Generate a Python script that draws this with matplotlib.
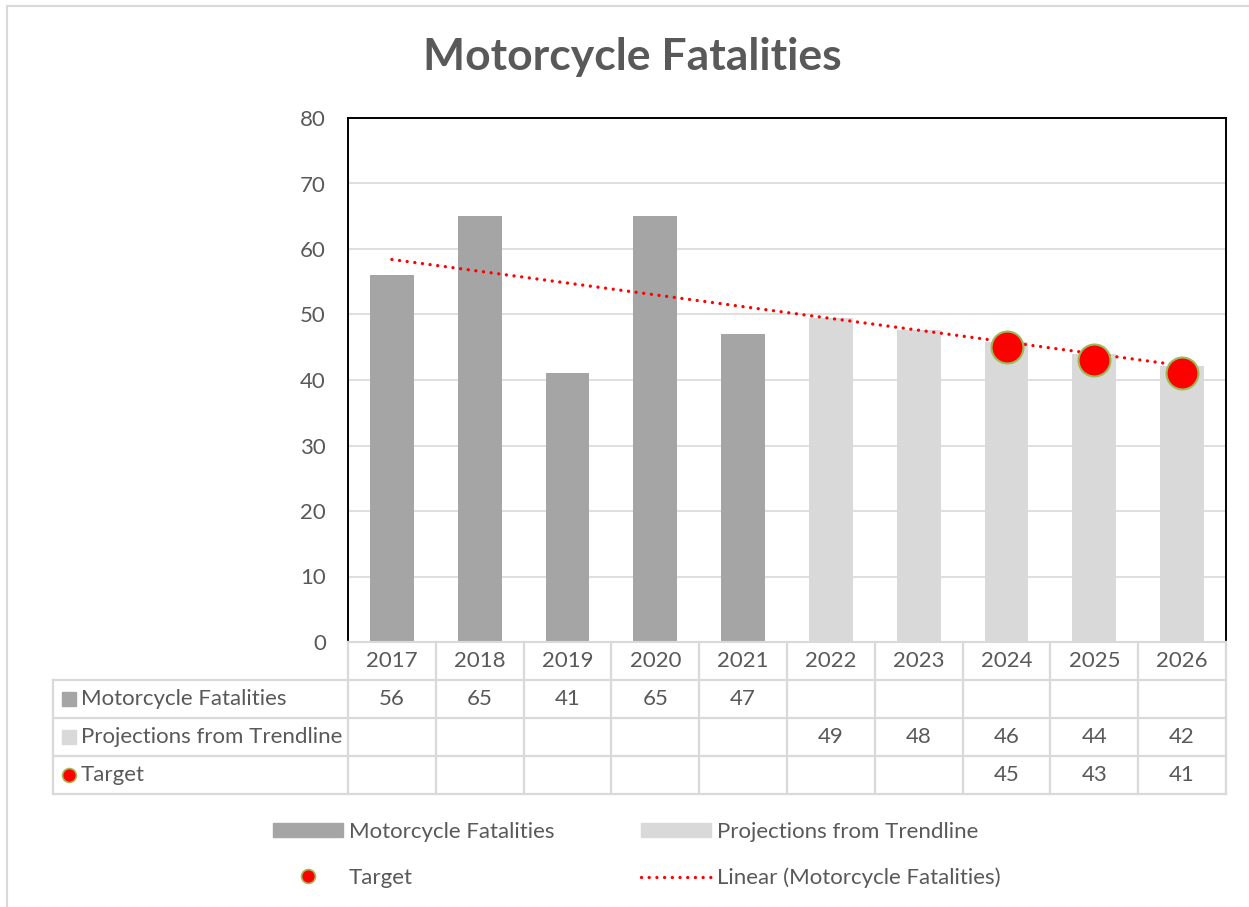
import numpy as np
import matplotlib.pyplot as plt
from matplotlib.lines import Line2D
from matplotlib.patches import Patch
from matplotlib.transforms import blended_transform_factory

plt.rcParams['font.family'] = ['Lato', 'DejaVu Sans']

# data
years = ["2017", "2018", "2019", "2020", "2021", "2022", "2023", "2024", "2025", "2026"]
fatalities = [56, 65, 41, 65, 47, None, None, None, None, None]
projections = [None, None, None, None, None, 49.4, 47.6, 45.8, 44.0, 42.2]
targets = [None, None, None, None, None, None, None, 45, 43, 41]

dark_grey = "#A5A5A5"
light_grey = "#D9D9D9"
text_col = "#595959"
grid_col = "#D9D9D9"

W, H = 1249, 907
fig = plt.figure(figsize=(W / 100, H / 100), dpi=100)


def fx(px):
    return px / W


def fy(py):
    return 1 - py / H


ax = fig.add_axes([fx(348), fy(642), fx(1226) - fx(348), fy(118) - fy(642)])

x = np.arange(len(years))
fx_idx = [i for i, v in enumerate(fatalities) if v is not None]
pr_idx = [i for i, v in enumerate(projections) if v is not None]
tg_idx = [i for i, v in enumerate(targets) if v is not None]

ax.bar([x[i] for i in fx_idx], [fatalities[i] for i in fx_idx], width=0.5,
       color=dark_grey, zorder=2)
ax.bar([x[i] for i in pr_idx], [projections[i] for i in pr_idx], width=0.5,
       color=light_grey, zorder=2)

# linear trendline from the actual values, extended forward
coef = np.polyfit([x[i] for i in fx_idx], [fatalities[i] for i in fx_idx], 1)
ax.plot(x, np.polyval(coef, x), color="red", lw=2.4,
        linestyle=(0, (0.01, 2.3)), dash_capstyle="round", zorder=3)

ax.plot([x[i] for i in tg_idx], [targets[i] for i in tg_idx], "o",
        color="red", markersize=23, markeredgecolor="#9BBB59",
        markeredgewidth=1.5, zorder=4)

ax.set_xlim(-0.5, len(years) - 0.5)
ax.set_ylim(0, 80)
ax.set_yticks(np.arange(0, 81, 10))
ax.set_xticks([])
ax.tick_params(axis="y", length=0, pad=16, labelsize=16, labelcolor=text_col)
ax.yaxis.grid(True, color=grid_col, lw=1.2, zorder=0)
ax.set_axisbelow(True)
for s in ["left", "top", "right"]:
    ax.spines[s].set_color("black")
    ax.spines[s].set_linewidth(1.4)
ax.spines["bottom"].set_color(light_grey)
ax.spines["bottom"].set_linewidth(1.5)

# data table beneath the axes
tr = blended_transform_factory(ax.transData, fig.transFigure)
rows_y = [642, 680, 718, 756, 794]
lc = dict(color=light_grey, lw=1.6, clip_on=False)
left_edge = fx(53)
for k, py in enumerate(rows_y):
    if k == 0:
        continue
    fig.add_artist(Line2D([left_edge, fx(1226)], [fy(py), fy(py)], **lc))
for b in np.arange(-0.5, len(years), 1.0):
    fig.add_artist(Line2D([b, b], [fy(642), fy(794)], transform=tr, **lc))
fig.add_artist(Line2D([left_edge, left_edge], [fy(680), fy(794)], **lc))

fs = 16
for i, yr in enumerate(years):
    fig.text(x[i], fy(661), yr, transform=tr, ha="center", va="center",
             fontsize=fs, color=text_col)
for row, vals in zip([699, 737, 775], [fatalities, projections, targets]):
    for i, v in enumerate(vals):
        if v is not None:
            fig.text(x[i], fy(row), f"{v:.0f}", transform=tr, ha="center",
                     va="center", fontsize=fs, color=text_col)

row_labels = ["Motorcycle Fatalities", "Projections from Trendline", "Target"]
for row, lab in zip([699, 737, 775], row_labels):
    fig.text(fx(81), fy(row), lab, ha="left", va="center", fontsize=fs,
             color=text_col)
fig.add_artist(Line2D([fx(69)], [fy(699)], marker="s", markersize=10,
                      color=dark_grey, lw=0))
fig.add_artist(Line2D([fx(69)], [fy(737)], marker="s", markersize=10,
                      color=light_grey, lw=0))
fig.add_artist(Line2D([fx(69)], [fy(775)], marker="o", markersize=10,
                      color="red", markeredgecolor="#9BBB59",
                      markeredgewidth=1.2, lw=0))

# title
fig.text(fx(632), fy(57), "Motorcycle Fatalities", ha="center", va="center",
         fontsize=32, fontweight="bold", color=text_col)

# legend
handles = [
    Patch(color=dark_grey),
    Line2D([], [], marker="o", color="red", markeredgecolor="#9BBB59",
           markeredgewidth=1.2, markersize=10, lw=0),
    Patch(color=light_grey),
    Line2D([], [], color="red", lw=2.4, linestyle=(0, (0.01, 2.3)),
           dash_capstyle="round"),
]
labels = ["Motorcycle Fatalities", "Target", "Projections from Trendline",
          "Linear (Motorcycle Fatalities)"]
leg = fig.legend(handles, labels, loc="center", ncol=2,
                 bbox_to_anchor=(fx(637), fy(855)), frameon=False,
                 fontsize=fs, handlelength=3.15, handleheight=0.55,
                 handletextpad=0.27, columnspacing=3.9, labelspacing=1.16)
for t in leg.get_texts():
    t.set_color(text_col)

# outer chart border (top and left visible)
fig.add_artist(Line2D([fx(7), fx(7)], [fy(6), 0], color=light_grey, lw=1.5))
fig.add_artist(Line2D([fx(7), 1], [fy(6), fy(6)], color=light_grey, lw=1.5))

fig.savefig("out.png", dpi=100)
